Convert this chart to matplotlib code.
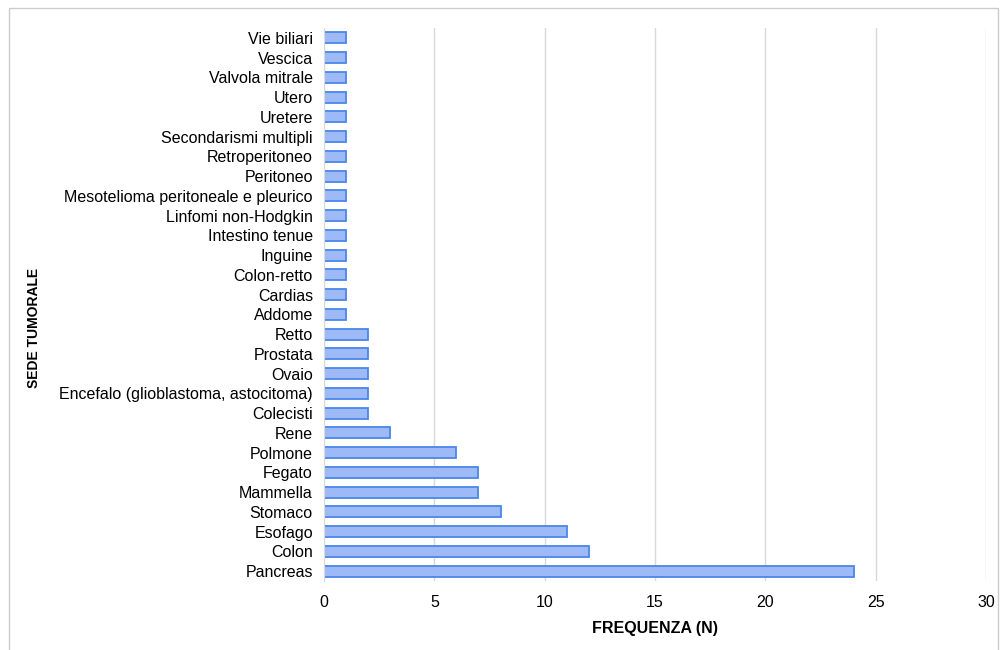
import matplotlib.pyplot as plt
from matplotlib.patches import Rectangle

plt.rcParams['font.family'] = ['Liberation Sans', 'DejaVu Sans']

# bottom -> top
SITES = ['Pancreas', 'Colon', 'Esofago', 'Stomaco', 'Mammella', 'Fegato',
         'Polmone', 'Rene', 'Colecisti', 'Encefalo (glioblastoma, astocitoma)',
         'Ovaio', 'Prostata', 'Retto', 'Addome', 'Cardias', 'Colon-retto',
         'Inguine', 'Intestino tenue', 'Linfomi non-Hodgkin',
         'Mesotelioma peritoneale e pleurico', 'Peritoneo', 'Retroperitoneo',
         'Secondarismi multipli', 'Uretere', 'Utero', 'Valvola mitrale',
         'Vescica', 'Vie biliari']
COUNTS = [24, 12, 11, 8, 7, 7, 6, 3, 2, 2, 2, 2, 2,
          1, 1, 1, 1, 1, 1, 1, 1, 1, 1, 1, 1, 1, 1, 1]
X_TICKS = [0, 5, 10, 15, 20, 25, 30]

fig = plt.figure(figsize=(10, 6.5), dpi=100)
ax = fig.add_axes([0.324, 0.106, 0.662, 0.851])

ax.barh(range(len(SITES)), COUNTS, height=0.56,
        color='#9ebaf6', edgecolor='#4a86e8', linewidth=1.3, zorder=3)

ax.set_yticks(range(len(SITES)))
ax.set_yticklabels(SITES, fontsize=11.5)
ax.set_ylim(-0.5, len(SITES) - 0.5)
ax.set_xlim(0, 30)
ax.set_xticks(X_TICKS)
ax.tick_params(axis='x', labelsize=11.5, length=0, pad=10)
ax.tick_params(axis='y', length=0, pad=8)
ax.grid(axis='x', color='#d9d9d9', linewidth=1, zorder=0)

for side in ['top', 'right', 'bottom']:
    ax.spines[side].set_visible(False)
ax.spines['left'].set_color('#d9d9d9')
ax.spines['left'].set_zorder(4)

ax.set_xlabel('FREQUENZA (N)', fontsize=11.5, fontweight='bold', labelpad=8)
ax.set_ylabel('SEDE TUMORALE', fontsize=10, fontweight='bold')
ax.yaxis.set_label_coords(-0.428, 0.457)

# outer frame (open at the bottom edge of the image)
fig.patches.append(Rectangle((0.0085, -0.05), 0.989, 1.038,
                             transform=fig.transFigure, fill=False,
                             edgecolor='#cccccc', linewidth=1))

fig.savefig('out.png', dpi=100)
